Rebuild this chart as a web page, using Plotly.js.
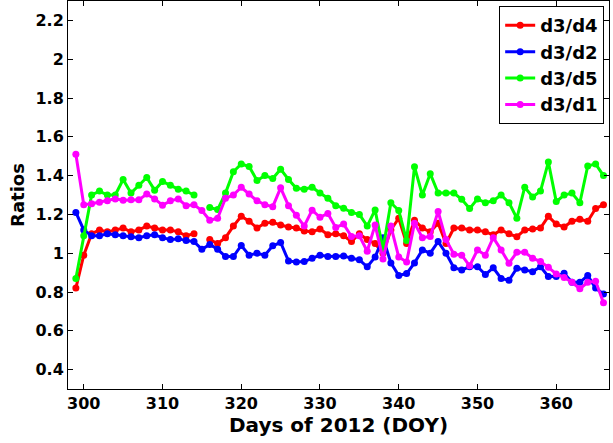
<!DOCTYPE html>
<html>
<head>
<meta charset="utf-8">
<script src="https://cdn.plot.ly/plotly-3.0.1.min.js"></script>
<style>
html,body{margin:0;padding:0;background:#fff;}
#chart{width:613px;height:443px;}
</style>
</head>
<body>
<div id="chart"></div>
<script>
const days = [299,300,301,302,303,304,305,306,307,308,309,310,311,312,313,314,315,316,317,318,319,320,321,322,323,324,325,326,327,328,329,330,331,332,333,334,335,336,337,338,339,340,341,342,343,344,345,346,347,348,349,350,351,352,353,354,355,356,357,358,359,360,361,362,363,364,365,366];

const d3d4 = [0.82,0.99,1.10,1.12,1.11,1.12,1.13,1.11,1.12,1.14,1.13,1.12,1.12,1.11,1.09,1.10,null,1.07,1.05,1.08,1.14,1.19,1.165,1.13,1.155,1.16,1.145,1.135,1.13,1.115,1.11,1.125,1.095,1.10,1.09,1.06,1.10,1.07,1.05,1.00,1.12,1.18,1.05,1.17,1.13,1.11,1.155,1.05,1.13,1.13,1.12,1.12,1.11,1.095,1.12,1.10,1.085,1.12,1.125,1.13,1.19,1.15,1.135,1.165,1.175,1.165,1.23,1.25];

const d3d2 = [1.21,1.12,1.09,1.09,1.10,1.095,1.09,1.085,1.08,1.09,1.095,1.08,1.07,1.075,1.065,1.06,1.02,1.045,1.02,0.983,0.983,1.04,0.99,1.0,0.99,1.038,1.055,0.96,0.955,0.957,0.974,0.99,0.983,0.983,0.986,0.974,0.966,0.93,0.98,1.08,0.95,0.885,0.895,0.95,1.017,1.0,1.06,1.0,0.925,0.914,0.93,0.93,0.89,0.925,0.87,0.86,0.923,0.914,0.905,0.93,0.88,0.88,0.897,0.85,0.85,0.885,0.82,0.79];

const d3d5 = [0.87,1.09,1.30,1.32,1.30,1.30,1.38,1.31,1.35,1.39,1.325,1.37,1.35,1.33,1.32,1.30,null,1.235,1.225,1.31,1.42,1.46,1.447,1.375,1.40,1.385,1.433,1.38,1.335,1.33,1.34,1.31,1.283,1.245,1.232,1.21,1.20,1.14,1.223,1.02,1.26,1.22,1.065,1.445,1.30,1.41,1.31,1.31,1.31,1.278,1.23,1.28,1.26,1.27,1.30,1.26,1.18,1.34,1.29,1.32,1.47,1.266,1.30,1.31,1.26,1.45,1.46,1.40];

const d3d1 = [1.51,1.25,1.255,1.263,1.27,1.28,1.273,1.275,1.275,1.305,1.28,1.247,1.27,1.28,1.245,1.25,1.22,1.17,1.18,1.283,1.30,1.34,1.305,1.27,1.25,1.24,1.337,1.245,1.195,1.14,1.222,1.185,1.205,1.133,1.15,1.086,1.09,1.01,1.146,0.97,1.14,0.98,0.955,1.155,1.08,1.086,1.215,1.07,0.995,0.99,0.935,1.017,0.99,1.08,1.017,0.948,1.005,1.005,0.974,0.957,0.927,0.893,0.875,0.85,0.817,0.85,0.855,0.745];

const seriesNames = ['d3/d4','d3/d2','d3/d5','d3/d1'];
const seriesData = [d3d4, d3d2, d3d5, d3d1];
const seriesColors = ['#ff0000','#0000ff','#00ff00','#ff00ff'];

const xTicks = [300,310,320,330,340,350,360];
const yTicks = [0.4,0.6,0.8,1,1.2,1.4,1.6,1.8,2,2.2];
const yTickText = ['0.4','0.6','0.8','1','1.2','1.4','1.6','1.8','2','2.2'];

const traces = seriesNames.map((n,i)=>({
  x: days, y: seriesData[i], name: n, type:'scatter', mode:'lines+markers',
  connectgaps:false,
  line:{color:seriesColors[i], width:3},
  marker:{color:seriesColors[i], size:7, symbol:'circle'}
}));

const F = 'DejaVu Sans, Arial, sans-serif';
const layout = {
  width:613, height:443,
  margin:{l:68, r:4, t:1, b:54, pad:0},
  paper_bgcolor:'#fff', plot_bgcolor:'#fff',
  showlegend:true,
  font:{family:F, color:'#000'},
  xaxis:{
    range:[298,366.7], tickvals:xTicks, ticktext:xTicks.map(String),
    ticks:'inside', ticklen:5, tickwidth:1, tickcolor:'#000',
    showline:true, linecolor:'#000', linewidth:1, mirror:'ticks',
    showgrid:false, zeroline:false,
    tickfont:{family:F, size:16, weight:'bold', color:'#000'},
    title:{text:'Days of 2012 (DOY)', font:{family:F, size:20, weight:'bold', color:'#000'}, standoff:2}
  },
  yaxis:{
    range:[0.3,2.3], tickvals:yTicks, ticktext:yTickText,
    ticks:'inside', ticklen:5, tickwidth:1, tickcolor:'#000',
    showline:true, linecolor:'#000', linewidth:1, mirror:'ticks',
    showgrid:false, zeroline:false,
    tickfont:{family:F, size:16, weight:'bold', color:'#000'},
    title:{text:'Ratios', font:{family:F, size:18, weight:'bold', color:'#000'}, standoff:6}
  },
  legend:{
    x:0.797, y:0.987, xanchor:'left', yanchor:'top',
    bgcolor:'#fff', bordercolor:'#000', borderwidth:1,
    font:{family:F, size:18, weight:'bold', color:'#000'},
    tracegroupgap:0, itemwidth:30
  }
};

Plotly.newPlot('chart', traces, layout, {staticPlot:true, displayModeBar:false});
</script>
</body>
</html>
